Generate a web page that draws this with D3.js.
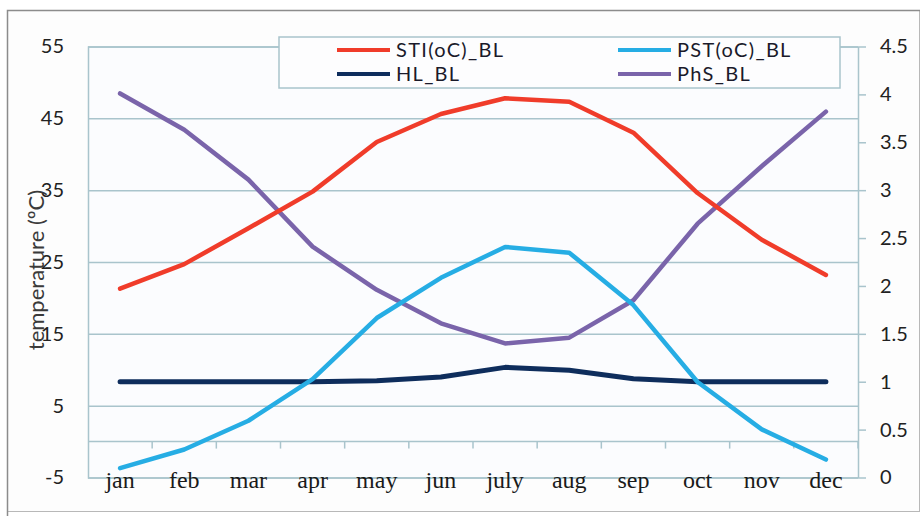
<!DOCTYPE html>
<html>
<head>
<meta charset="utf-8">
<script src="https://cdn.jsdelivr.net/npm/d3@7"></script>
<style>
  body { margin: 0; background: #ffffff; }
  svg { display: block; }
</style>
</head>
<body>
<div id="chart"></div>
<script>
// Values
const months = ["jan", "feb", "mar", "apr", "may", "jun", "july", "aug", "sep", "oct", "nov", "dec"];
const sti = [21.3, 24.7, 29.7, 34.8, 41.7, 45.6, 47.8, 47.3, 43.0, 34.6, 28.1, 23.2];
const pst = [-3.7, -1.1, 2.9, 8.7, 17.2, 22.8, 27.1, 26.3, 19.0, 8.3, 1.7, -2.5];
const hl = [1.0, 1.0, 1.0, 1.0, 1.01, 1.05, 1.15, 1.12, 1.03, 1.0, 1.0, 1.0];
const phs = [4.01, 3.63, 3.11, 2.41, 1.96, 1.61, 1.40, 1.46, 1.85, 2.65, 3.25, 3.82];
const leftTicks = [-5, 5, 15, 25, 35, 45, 55];
const rightTicks = [0, 0.5, 1, 1.5, 2, 2.5, 3, 3.5, 4, 4.5];

const width = 923, height = 516;
const plotL = 88, plotR = 858, plotT = 46.5, plotB = 477.5;
const gridColor = "#a9c4cc";

const svg = d3.select("#chart")
  .append("svg")
  .attr("width", width)
  .attr("height", height);

// outer frame
svg.append("rect")
  .attr("x", 7.5).attr("y", 10.5)
  .attr("width", 912).attr("height", 501)
  .attr("fill", "#fdfdfd")
  .attr("stroke", "#b8b8b8");
svg.append("path")
  .attr("d", "M7.5,516V10.5H920")
  .attr("fill", "none")
  .attr("stroke", "#8c8c8c")
  .attr("stroke-width", 1.5);

// scales
const x = d3.scaleBand().domain(months).range([plotL, plotR]);
const yL = d3.scaleLinear().domain([-5, 55]).range([plotB, plotT]);
const yR = d3.scaleLinear().domain([0, 4.5]).range([plotB, plotT]);

// plot background
svg.append("rect")
  .attr("x", plotL).attr("y", plotT)
  .attr("width", plotR - plotL).attr("height", plotB - plotT)
  .attr("fill", "#fbfcfe");

// gridlines + left labels
const gl = svg.append("g")
  .attr("transform", `translate(${plotL},0)`)
  .call(d3.axisLeft(yL).tickValues(leftTicks).tickSize(-(plotR - plotL)).tickPadding(24).tickFormat(d => String(d)));
gl.select(".domain").attr("stroke", gridColor).attr("stroke-width", 1.5);
gl.selectAll(".tick line").attr("stroke", gridColor).attr("stroke-width", 1.5);
gl.selectAll(".tick text")
  .attr("font-family", "Lato, 'Open Sans', sans-serif")
  .attr("font-size", "20px")
  .attr("fill", "#222");

// right axis
const gr = svg.append("g")
  .attr("transform", `translate(${plotR},0)`)
  .call(d3.axisRight(yR).tickValues(rightTicks).tickSize(8).tickSizeOuter(0).tickPadding(14).tickFormat(d => String(d)));
gr.select(".domain").attr("stroke", gridColor).attr("stroke-width", 1.5);
gr.selectAll(".tick line").attr("stroke", gridColor).attr("stroke-width", 1.5);
gr.selectAll(".tick text")
  .attr("font-family", "Lato, 'Open Sans', sans-serif")
  .attr("font-size", "20px")
  .attr("fill", "#222");

// x axis line at 0 with boundary ticks
const y0 = yL(0);
svg.append("line")
  .attr("x1", plotL).attr("x2", plotR)
  .attr("y1", y0).attr("y2", y0)
  .attr("stroke", gridColor).attr("stroke-width", 1.5);
svg.selectAll(".xtick")
  .data(months.slice(1).concat(["_end"]))
  .join("line")
  .attr("class", "xtick")
  .attr("x1", d => d === "_end" ? plotR : x(d))
  .attr("x2", d => d === "_end" ? plotR : x(d))
  .attr("y1", y0).attr("y2", y0 + 7)
  .attr("stroke", gridColor).attr("stroke-width", 1.5);

// month labels
const gx = svg.append("g")
  .attr("transform", `translate(0,${y0})`)
  .call(d3.axisBottom(x).tickSize(0).tickPadding(29));
gx.select(".domain").remove();
gx.selectAll(".tick text")
  .attr("font-family", "'Liberation Serif', 'Times New Roman', serif")
  .attr("font-size", "24px")
  .attr("fill", "#1a1a1a");

// y title
svg.append("text")
  .attr("transform", "translate(44,270) rotate(-90)")
  .attr("text-anchor", "middle")
  .attr("font-family", "Lato, 'Open Sans', sans-serif")
  .attr("font-size", "22px")
  .attr("fill", "#3a3a3a")
  .text("temperature (ºC)");

// series
const series = [
  { name: "STI(oC)_BL", values: sti, scale: yL, color: "#f03c2a", w: 4.5 },
  { name: "PST(oC)_BL", values: pst, scale: yL, color: "#26ade4", w: 4.5 },
  { name: "HL_BL", values: hl, scale: yR, color: "#0e2d5c", w: 5 },
  { name: "PhS_BL", values: phs, scale: yR, color: "#7a64aa", w: 4.5 }
];

const drawOrder = [2, 3, 1, 0];
drawOrder.forEach(i => {
  const s = series[i];
  const line = d3.line()
    .x((d, j) => x(months[j]) + x.bandwidth() / 2)
    .y(d => s.scale(d));
  svg.append("path")
    .datum(s.values)
    .attr("d", line)
    .attr("fill", "none")
    .attr("stroke", s.color)
    .attr("stroke-width", s.w)
    .attr("stroke-linejoin", "round")
    .attr("stroke-linecap", "round");
});

// legend
const legend = svg.append("g");
legend.append("rect")
  .attr("x", 279).attr("y", 37)
  .attr("width", 561).attr("height", 51)
  .attr("fill", "#fdfdfe")
  .attr("stroke", gridColor)
  .attr("stroke-width", 1.5);

const legPos = [[337, 50], [618, 50], [337, 74], [618, 74]];
series.forEach((s, i) => {
  const [lx, ly] = legPos[i];
  legend.append("line")
    .attr("x1", lx).attr("x2", lx + 53)
    .attr("y1", ly).attr("y2", ly)
    .attr("stroke", s.color)
    .attr("stroke-width", 4);
  legend.append("text")
    .attr("x", lx + 59).attr("y", ly)
    .attr("dy", "0.35em")
    .attr("font-family", "Lato, 'Open Sans', sans-serif")
    .attr("font-size", "20px")
    .attr("letter-spacing", "1.3px")
    .attr("fill", "#1a1a2a")
    .text(s.name);
});
</script>
</body>
</html>
